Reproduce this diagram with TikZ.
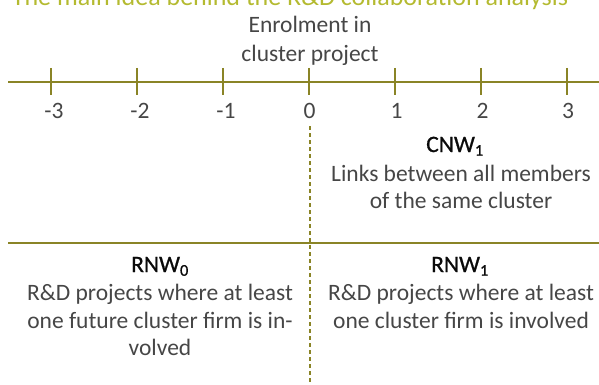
\documentclass[tikz,border=0pt]{standalone}
\usepackage{fontspec}
\setmainfont{Carlito}
\definecolor{olive}{RGB}{138,132,38}
\definecolor{titlecol}{RGB}{180,186,48}
\definecolor{txt}{RGB}{70,70,70}
\definecolor{head}{RGB}{10,10,10}
\begin{document}
\begin{tikzpicture}[x=1pt,y=-1pt,
  lbl/.style={font=\fontsize{23.5}{28}\selectfont,text=txt,inner sep=0pt,anchor=base},
  hd/.style={lbl,text=head,font=\fontsize{23.5}{28}\selectfont\addfontfeature{FakeBold=0.8}},
  axis/.style={draw=olive,line width=1.8pt},
  tick/.style={draw=olive,line width=2pt}]
\useasboundingbox (0,0) rectangle (599,385);
\node[font=\fontsize{26}{30}\selectfont,text=titlecol,anchor=base,inner sep=0pt] (title) at (290,6) {The main idea behind the R\&D collaboration analysis};
\node[lbl] (enrolA) at (310,33) {Enrolment in};
\node[lbl] (enrolB) at (310,62) {cluster project};
\coordinate (axL) at (8,82);
\coordinate (axR) at (599,82);
\draw[axis] (axL) -- (axR);
\foreach \x in {51,137,223,309,395,481,567} {
  \draw[tick] (\x,68) -- (\x,95);
}
\node[lbl] (nm3) at (54,118) {-3};
\node[lbl] (nm2) at (140,118) {-2};
\node[lbl] (nm1) at (226,118) {-1};
\node[lbl] (n0) at (309.5,118) {0};
\node[lbl] (n1) at (396.5,118) {1};
\node[lbl] (n2) at (482.5,118) {2};
\node[lbl] (n3) at (568,118) {3};
\coordinate (dtop) at (310,126);
\coordinate (dbot) at (310,385);
\draw[olive,line width=1.5pt,dash pattern=on 4pt off 3pt] (dtop) -- (dbot);
\coordinate (hL) at (8,243);
\coordinate (hR) at (599,243);
\draw[axis] (hL) -- (hR);
\node[hd] (cnw) at (455,152) {CNW\textsubscript{1}};
\node[lbl] (cnwA) at (461,181) {Links between all members};
\node[lbl] (cnwB) at (461,208) {of the same cluster};
\node[hd] (rnw0) at (160,272) {RNW\textsubscript{0}};
\node[lbl] (rnw0A) at (160,300) {R\&D projects where at least};
\node[lbl] (rnw0B) at (160,328) {one future cluster firm is in-};
\node[lbl] (rnw0C) at (160,355) {volved};
\node[hd] (rnw1) at (460,272) {RNW\textsubscript{1}};
\node[lbl] (rnw1A) at (461,300) {R\&D projects where at least};
\node[lbl] (rnw1B) at (461,328) {one cluster firm is involved};
\end{tikzpicture}
\end{document}
